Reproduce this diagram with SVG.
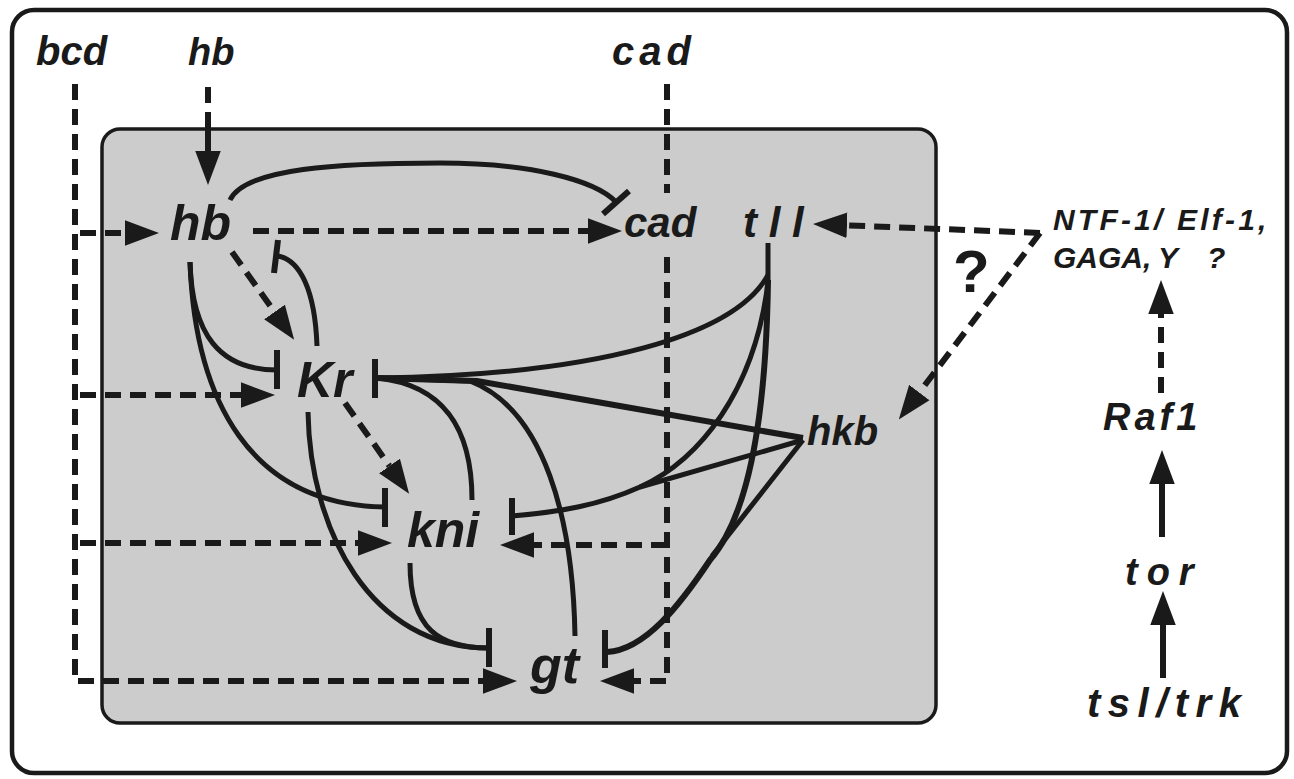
<svg xmlns="http://www.w3.org/2000/svg" width="1294" height="779" viewBox="0 0 1294 779">
<style>
.lbl{font-family:"Liberation Sans",Arial,Helvetica,sans-serif;font-weight:bold;font-style:italic;fill:#1a1a1a}
.dash{fill:none;stroke:#1a1a1a;stroke-width:6;stroke-dasharray:16 9}
.sol{fill:none;stroke:#1a1a1a;stroke-width:5;stroke-linecap:butt}
.thick{fill:none;stroke:#1a1a1a;stroke-width:6}
.bar{stroke:#1a1a1a;stroke-width:6;fill:none}
</style>
<defs>
<marker id="ah" markerUnits="userSpaceOnUse" markerWidth="34" markerHeight="26" viewBox="0 0 32 24" refX="0" refY="12" orient="auto">
<path d="M0,0 L32,12 L0,24 z" fill="#1a1a1a"/>
</marker>
</defs>
<rect x="0" y="0" width="1294" height="779" fill="#ffffff"/>
<rect id="outer" x="12" y="10" width="1275" height="763" rx="22" fill="#ffffff" stroke="#1a1a1a" stroke-width="4.5"/>
<rect id="embryo" x="102" y="129" width="834" height="594" rx="18" fill="#cccccc" stroke="#1a1a1a" stroke-width="3.5"/>

<g id="connectors">
<!-- dashed activations -->
<path class="dash" d="M75,84 L75,681 L483,681" marker-end="url(#ah)"/>
<path class="dash" d="M80,233 L125,233" marker-end="url(#ah)"/>
<path class="dash" d="M80,395 L241,395" marker-end="url(#ah)"/>
<path class="dash" d="M80,543 L358,543" marker-end="url(#ah)"/>
<path class="dash" d="M208,87 L208,130"/>
<path class="sol" d="M208,128 L208,151" style="stroke-width:6" marker-end="url(#ah)"/>
<path class="dash" d="M253,231 L588,231" marker-end="url(#ah)"/>
<path class="dash" d="M667,84 L667,193"/>
<path class="dash" d="M667,257 L667,681 L634,681" marker-end="url(#ah)"/>
<path class="dash" d="M667,545 L534,545" marker-end="url(#ah)"/>
<path class="dash" d="M232,252 L274.5,312" marker-end="url(#ah)"/>
<path class="dash" d="M345,403 L389.5,466" marker-end="url(#ah)"/>
<path class="dash" d="M1040,233 L847,225.3" marker-end="url(#ah)"/>
<path class="dash" d="M1040,233 L919.3,392.5" marker-end="url(#ah)"/>
<path class="dash" d="M1161,393 L1161,314" marker-end="url(#ah)"/>
<!-- solid activations -->
<path class="thick" d="M1162,537 L1162,484" marker-end="url(#ah)"/>
<path class="thick" d="M1163,678 L1163,625" marker-end="url(#ah)"/>
<!-- repressions -->
<path class="sol" d="M230,200 C245,168 340,163 440,163 C530,163 595,180 616,202"/>
<line class="bar" x1="603" y1="214" x2="629" y2="191"/>
<path class="sol" d="M190,262 C192,335 220,370 277,370"/>
<line class="bar" x1="277" y1="350" x2="277" y2="389"/>
<path class="sol" d="M190,262 C195,400 250,505 385,507"/>
<line class="bar" x1="385" y1="488" x2="385" y2="527"/>
<path class="sol" d="M317,346 C315,290 300,260 278,256"/>
<line class="bar" x1="278" y1="240" x2="274" y2="273"/>
<path class="sol" d="M308,412 C310,530 370,648 489,648"/>
<path class="sol" d="M410,563 C410,630 440,648 489,648"/>
<line class="bar" x1="489" y1="628" x2="489" y2="667"/>
<path class="sol" d="M768,243 L768,282"/>
<path class="sol" d="M768,275 C735,335 600,375 377,378"/>
<path class="thick" d="M803,438 L477,381 L377,378"/>
<path class="sol" d="M472,500 C472,430 445,385 377,378"/>
<path class="sol" d="M575,636 C573,520 545,410 470,381 L377,378"/>
<line class="bar" x1="375" y1="359" x2="375" y2="398"/>
<path class="sol" d="M768,282 C755,390 700,460 640,487 C600,505 560,512 512,516"/>
<path class="sol" d="M803,440 L640,487"/>
<line class="bar" x1="512" y1="498" x2="512" y2="535"/>
<path class="thick" d="M768,280 C766,430 745,520 710,560 C680,605 645,650 607,652"/>
<path class="sol" d="M803,440 L712,556"/>
<line class="bar" x1="605" y1="630" x2="605" y2="668"/>
</g>

<g id="node-bcd"><text class="lbl" x="36" y="65" font-size="40">bcd</text></g>
<g id="node-hb-top"><text class="lbl" x="188" y="65" font-size="38">hb</text></g>
<g id="node-cad-top"><text class="lbl" x="612" y="65" font-size="40" letter-spacing="5">cad</text></g>
<g id="node-hb"><text class="lbl" x="170" y="240" font-size="50">hb</text></g>
<g id="node-cad"><text class="lbl" x="624" y="237" font-size="42">cad</text></g>
<g id="node-tll"><text class="lbl" x="743" y="237" font-size="42" xml:space="preserve">t l l</text></g>
<g id="node-Kr"><text class="lbl" x="297" y="397" font-size="50">Kr</text></g>
<g id="node-kni"><text class="lbl" x="407" y="547" font-size="50">kni</text></g>
<g id="node-gt"><text class="lbl" x="530" y="683" font-size="52">gt</text></g>
<g id="node-hkb"><text class="lbl" x="807" y="445" font-size="40">hkb</text></g>
<g id="node-ntf">
<text class="lbl" x="1053" y="230" font-size="30" letter-spacing="3.2">NTF-1/ Elf-1,</text>
<text class="lbl" y="268" font-size="30"><tspan x="1053">GAGA,</tspan><tspan x="1158">Y</tspan><tspan x="1207">?</tspan></text>
</g>
<g id="node-q"><text x="953" y="292" font-size="60" font-family="Liberation Sans,Arial,sans-serif" font-weight="bold" fill="#1a1a1a">?</text></g>
<g id="node-raf1"><text class="lbl" x="1103" y="430" font-size="38" letter-spacing="4">Raf1</text></g>
<g id="node-tor"><text class="lbl" x="1125" y="585" font-size="38" letter-spacing="9">tor</text></g>
<g id="node-tsl"><text class="lbl" x="1087" y="717" font-size="40" letter-spacing="7.5">tsl/trk</text></g>
</svg>
